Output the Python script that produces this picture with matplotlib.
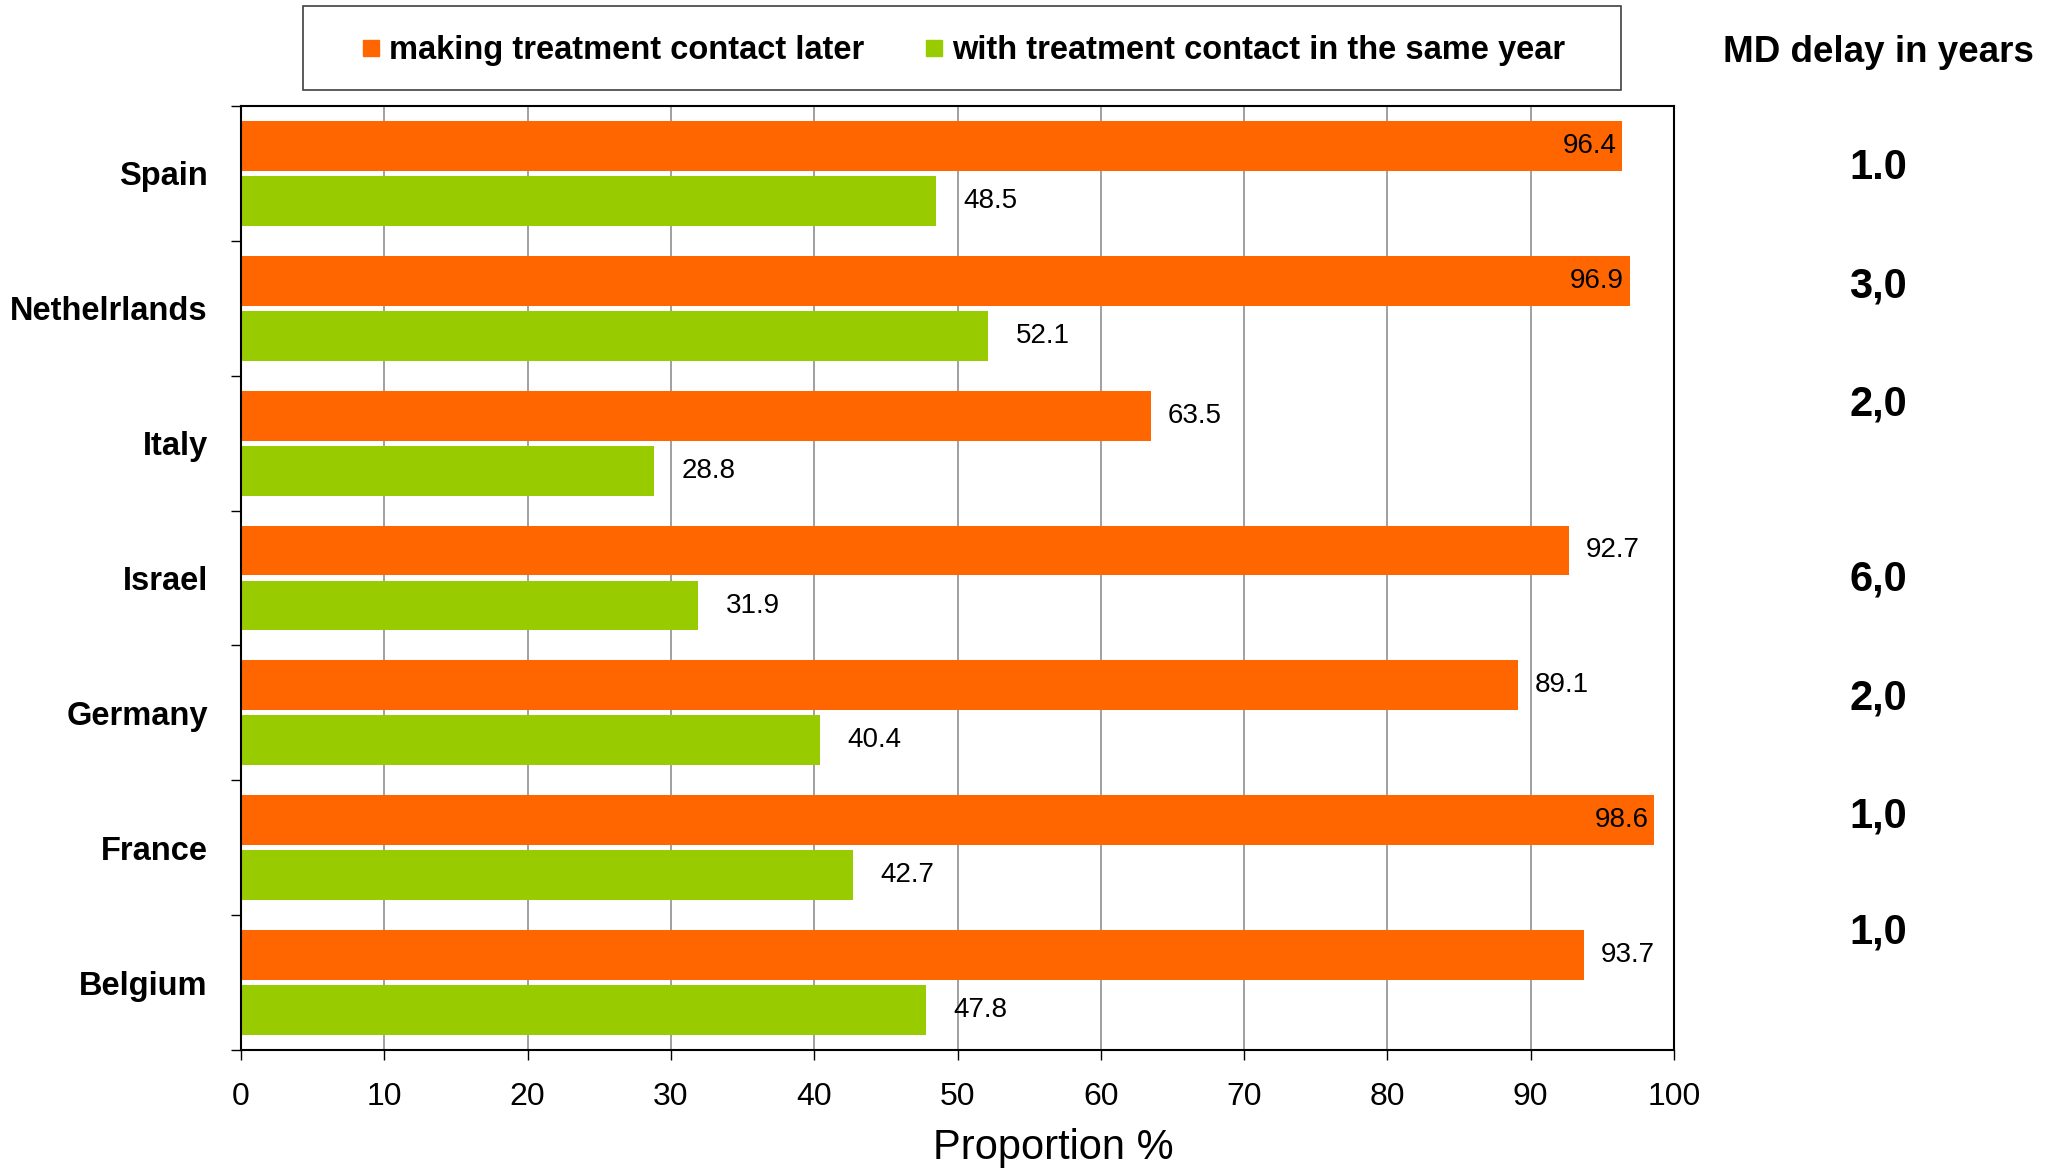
import matplotlib
matplotlib.use('Agg')
from matplotlib import pyplot as plt
from matplotlib.lines import Line2D
from matplotlib.patches import Rectangle
import numpy as np

plt.rcParams['font.family'] = ['Liberation Sans', 'DejaVu Sans']

countries = ['Spain', 'Nethelrlands', 'Italy', 'Israel', 'Germany', 'France', 'Belgium']
later = [96.4, 96.9, 63.5, 92.7, 89.1, 98.6, 93.7]
same_year = [48.5, 52.1, 28.8, 31.9, 40.4, 42.7, 47.8]
md_delay = ['1.0', '3,0', '2,0', '6,0', '2,0', '1,0', '1,0']
series_names = ['making treatment contact later', 'with treatment contact in the same year']
x_ticks = list(range(0, 101, 10))

ORANGE = '#ff6600'
GREEN = '#99cc00'

W, H = 2056, 1169
fig = plt.figure(figsize=(W / 100, H / 100), dpi=100)
# axes box in pixels: x 241..1674, y 106..1050
ax = fig.add_axes([241 / W, 1 - 1050 / H, 1433 / W, 944 / H])

y = np.arange(len(countries))
ax.barh(y - 0.204, later, height=0.37, color=ORANGE, zorder=2)
ax.barh(y + 0.204, same_year, height=0.37, color=GREEN, zorder=2)

for i, v in enumerate(later):
    if v > 95:
        ax.annotate(f'{v:.1f}', (v, i - 0.204), xytext=(-4, 0), textcoords='offset points',
                    ha='right', va='center', fontsize=20, zorder=3)
    else:
        ax.annotate(f'{v:.1f}', (v, i - 0.204), xytext=(12, 0), textcoords='offset points',
                    ha='left', va='center', fontsize=20, zorder=3)
for i, v in enumerate(same_year):
    ax.annotate(f'{v:.1f}', (v, i + 0.204), xytext=(20, 0), textcoords='offset points',
                ha='left', va='center', fontsize=20, zorder=3)

ax.set_xlim(0, 100)
ax.set_ylim(len(countries) - 0.5, -0.5)
ax.set_xticks(x_ticks)
ax.set_xticklabels([str(t) for t in x_ticks], fontsize=23)
ax.set_yticks(np.arange(len(countries) + 1) - 0.5)
ax.set_yticklabels([])
ax.set_yticks(y, minor=True)
ax.set_yticklabels(countries, minor=True, fontsize=23.5, fontweight='bold')
ax.tick_params(axis='x', length=7.2, width=1, direction='out', pad=16)
ax.tick_params(axis='y', which='major', length=7.2, width=1, direction='out')
ax.tick_params(axis='y', which='minor', length=0, pad=24)

ax.grid(axis='x', color='#a0a0a0', linewidth=1.4, zorder=0)
ax.set_axisbelow(True)
for sp in ax.spines.values():
    sp.set_linewidth(1.5)
    sp.set_color('black')

fig.text(1053 / W, 1 - 1148 / H, 'Proportion %', fontsize=30, ha='center', va='center')

# legend box
fig.patches.append(Rectangle((303 / W, 1 - 90 / H), 1318 / W, 84 / H, transform=fig.transFigure,
                             facecolor='white', edgecolor='#404040', linewidth=1.2))
handles = [Line2D([], [], marker='s', linestyle='none', markersize=11, color=c) for c in (ORANGE, GREEN)]
fig.legend(handles, series_names, loc='center', bbox_to_anchor=(964 / W, 1 - 51 / H), ncol=2,
           frameon=False, prop={'size': 23.5, 'weight': 'bold'}, handlelength=0.5,
           handletextpad=0.3, columnspacing=1.9, borderpad=0)

# MD delay column
fig.text(1878 / W, 1 - 52 / H, 'MD delay in years', fontsize=26.5, fontweight='bold', ha='center', va='center')
delay_y_px = [168, 286, 404, 580, 698, 816, 933]
for txt, yp in zip(md_delay, delay_y_px):
    fig.text(1878 / W, 1 - yp / H, txt, fontsize=30, fontweight='bold', ha='center', va='center')

fig.savefig('out.png', dpi=100, facecolor='white')
